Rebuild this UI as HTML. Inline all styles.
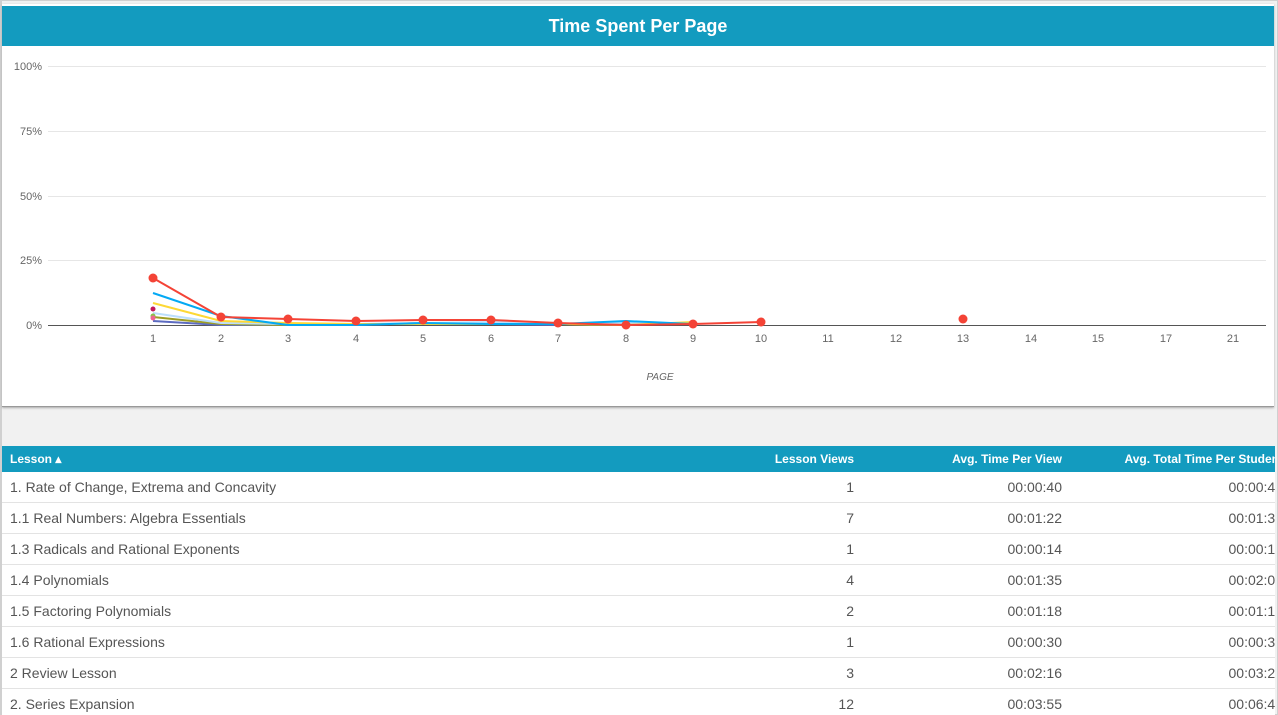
<!DOCTYPE html>
<html><head><meta charset="utf-8"><style>
body{margin:0;width:1278px;height:715px;overflow:hidden;background:#fff;font-family:"Liberation Sans",sans-serif;position:relative}
.frame{position:absolute;left:0;top:0;width:1275px;height:713px;border:1px solid #d0d0d0;border-left:2px solid #d0d0d0;background:#f1f1f1}
.panel{position:absolute;left:2px;top:4px;width:1272px;height:402px;background:#fff;border-bottom:1px solid #999;box-shadow:0 1px 2px #aaa}
.title{position:absolute;left:0;top:2px;width:1272px;height:40px;background:#139bbf;color:#fff;font-weight:bold;font-size:18px;text-align:center;line-height:40px}
.wrap{position:absolute;left:2px;top:446px;width:1273px;height:269px;overflow:hidden}
table{width:1291px;border-collapse:collapse;table-layout:fixed;font-size:14px;color:#555}
th{background:#139bbf;color:#fff;height:26px;font-size:12px;text-align:right;padding:0 10px 0 0;white-space:nowrap;overflow:hidden}
td{height:30px;border-bottom:1px solid #e3e3e3;padding:0 10px 0 0;background:#fff;text-align:right;white-space:nowrap;overflow:hidden}
td:first-child,th:first-child{text-align:left;padding-left:8px}
</style></head><body>
<div class="frame"></div>
<div class="panel"><div class="title">Time Spent Per Page</div></div>
<svg style="position:absolute;left:0;top:0" width="1278" height="406" font-family="Liberation Sans" font-size="11" fill="#666">
<g stroke="#e6e6e6"><line x1="48" x2="1266" y1="66.5" y2="66.5"/><line x1="48" x2="1266" y1="131.5" y2="131.5"/><line x1="48" x2="1266" y1="196.5" y2="196.5"/><line x1="48" x2="1266" y1="260.5" y2="260.5"/></g>
<line x1="48" x2="1266" y1="325.5" y2="325.5" stroke="#555"/>
<g text-anchor="end"><text x="42" y="70">100%</text><text x="42" y="135">75%</text><text x="42" y="200">50%</text><text x="42" y="264">25%</text><text x="42" y="329">0%</text></g>
<g text-anchor="middle"><text x="153" y="342">1</text><text x="221" y="342">2</text><text x="288" y="342">3</text><text x="356" y="342">4</text><text x="423" y="342">5</text><text x="491" y="342">6</text><text x="558" y="342">7</text><text x="626" y="342">8</text><text x="693" y="342">9</text><text x="761" y="342">10</text><text x="828" y="342">11</text><text x="896" y="342">12</text><text x="963" y="342">13</text><text x="1031" y="342">14</text><text x="1098" y="342">15</text><text x="1166" y="342">17</text><text x="1233" y="342">21</text>
<text x="660" y="380" font-style="italic" font-size="10">PAGE</text></g>
<g fill="none" stroke-width="2">
<polyline stroke="#5c6bc0" points="153,321 221,325 288,325 356,325 423,323 491,324 558,325"/>
<polyline stroke="#9e9d24" points="153,317 221,324 288,325"/>
<polyline stroke="#bbdefb" points="153,313 221,323 288,324 356,324 423,323 491,322 558,324 626,323 693,323"/>
<polyline stroke="#fdd835" points="153,303 221,321 288,323 356,324 423,324 491,324 558,324 626,325 693,322"/>
<polyline stroke="#03a9f4" points="153,293 221,316 288,325 356,325 423,323 491,324 558,324 626,321 693,324"/>
<polyline stroke="#f44336" points="153,278 221,317 288,319 356,321 423,320 491,320 558,323 626,325 693,324 761,322"/>
</g>
<circle cx="153" cy="309" r="2.5" fill="#c2185b"/><circle cx="153" cy="316" r="2.5" fill="#8bc34a"/><circle cx="153" cy="318" r="2.5" fill="#f06292"/>
<g fill="#f44336"><circle cx="153" cy="278" r="4.5"/><circle cx="221" cy="317" r="4.5"/><circle cx="288" cy="319" r="4.5"/><circle cx="356" cy="321" r="4.5"/><circle cx="423" cy="320" r="4.5"/><circle cx="491" cy="320" r="4.5"/><circle cx="558" cy="323" r="4.5"/><circle cx="626" cy="325" r="4.5"/><circle cx="693" cy="324" r="4.5"/><circle cx="761" cy="322" r="4.5"/><circle cx="963" cy="319" r="4.5"/></g>
</svg>
<div class="wrap"><table>
<colgroup><col style="width:743px"><col style="width:119px"><col style="width:208px"><col style="width:221px"></colgroup>
<tr><th>Lesson &#9652;</th><th>Lesson Views</th><th>Avg. Time Per View</th><th>Avg. Total Time Per Student</th></tr>
<tr><td>1. Rate of Change, Extrema and Concavity</td><td>1</td><td>00:00:40</td><td>00:00:40</td></tr>
<tr><td>1.1 Real Numbers: Algebra Essentials</td><td>7</td><td>00:01:22</td><td>00:01:30</td></tr>
<tr><td>1.3 Radicals and Rational Exponents</td><td>1</td><td>00:00:14</td><td>00:00:14</td></tr>
<tr><td>1.4 Polynomials</td><td>4</td><td>00:01:35</td><td>00:02:05</td></tr>
<tr><td>1.5 Factoring Polynomials</td><td>2</td><td>00:01:18</td><td>00:01:18</td></tr>
<tr><td>1.6 Rational Expressions</td><td>1</td><td>00:00:30</td><td>00:00:30</td></tr>
<tr><td>2 Review Lesson</td><td>3</td><td>00:02:16</td><td>00:03:24</td></tr>
<tr><td>2. Series Expansion</td><td>12</td><td>00:03:55</td><td>00:06:40</td></tr>
</table></div>
</body></html>
